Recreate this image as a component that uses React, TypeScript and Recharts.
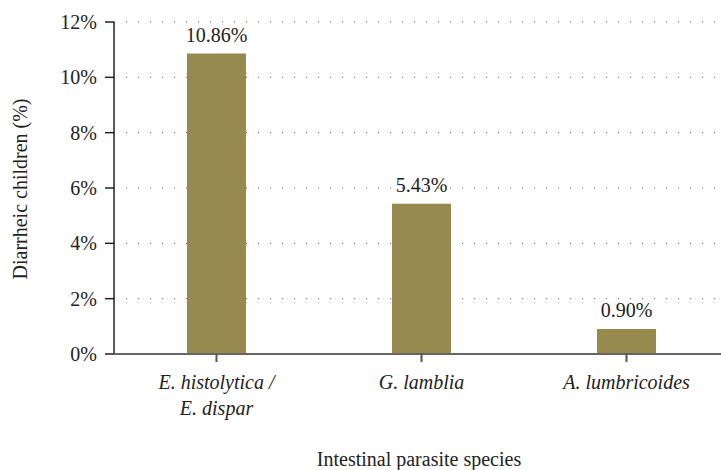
import React from 'react';
import { BarChart, Bar, XAxis, YAxis, CartesianGrid, LabelList } from 'recharts';

const categories = ['E. histolytica /\nE. dispar', 'G. lamblia', 'A. lumbricoides'];
const values = [10.86, 5.43, 0.9];
const valueLabels = ['10.86%', '5.43%', '0.90%'];
const yTicks = [0, 2, 4, 6, 8, 10, 12];
const yTitle = 'Diarrheic children (%)';
const xTitle = 'Intestinal parasite species';

const data = categories.map((c, i) => ({ name: c, value: values[i], label: valueLabels[i] }));

const FONT = '"Liberation Serif", "DejaVu Serif", serif';
const FS = 20;
const BAR = '#968a4e';

const XTick = (props: any) => {
  const { x, y, payload } = props;
  const lines = String(payload.value).split('\n');
  return (
    <g>
      {lines.map((l: string, i: number) => (
        <text key={i} x={x} y={y} dy={25 + i * 26} textAnchor="middle" fontStyle="italic" fontFamily={FONT} fontSize={FS} fill="#222">
          {l}
        </text>
      ))}
    </g>
  );
};

export default function App() {
  return (
    <div style={{ position: 'absolute', left: 0, top: 0, width: 721, height: 470, overflow: 'hidden', background: '#fff' }}>
      <BarChart width={740} height={470} data={data} margin={{ top: 22, right: 11, left: 0, bottom: 0 }}>
        <CartesianGrid horizontal vertical={false} stroke="#555" strokeDasharray="1 11" />
        <YAxis
          width={114}
          domain={[0, 12]}
          ticks={yTicks}
          interval={0}
          tickFormatter={(v: number) => `${v}%`}
          axisLine={{ stroke: '#222', strokeWidth: 1.5 }}
          tickLine={{ stroke: '#222', strokeWidth: 1.5 }}
          tickSize={9}
          tickMargin={8}
          tick={{ fontFamily: FONT, fontSize: FS, fill: '#222' }}
          label={{
            content: () => (
              <text x={20} y={189} transform="rotate(-90 20 189)" textAnchor="middle" dominantBaseline="central" fontFamily={FONT} fontSize={FS} fill="#222">
                {yTitle}
              </text>
            ),
          }}
        />
        <XAxis
          dataKey="name"
          height={116}
          interval={0}
          axisLine={{ stroke: '#666', strokeWidth: 2 }}
          tickLine={{ stroke: '#555', strokeWidth: 2 }}
          tickSize={8}
          tick={<XTick />}
          label={{
            content: () => (
              <text x={419} y={466} textAnchor="middle" fontFamily={FONT} fontSize={FS} fill="#222">
                {xTitle}
              </text>
            ),
          }}
        />
        <Bar dataKey="value" fill={BAR} barSize={59} isAnimationActive={false}>
          <LabelList dataKey="label" position="top" offset={12} fontFamily={FONT} fontSize={FS} fill="#222" />
        </Bar>
      </BarChart>
    </div>
  );
}
